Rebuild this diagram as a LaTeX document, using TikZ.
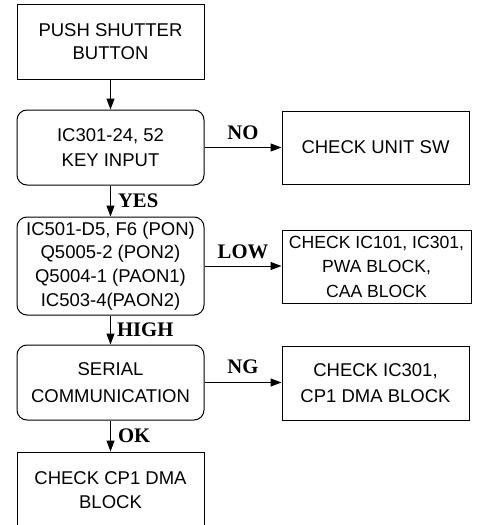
\documentclass[tikz,border=0pt]{standalone}
\usepackage{fontspec}
\setmainfont{Liberation Sans}
\newfontfamily\labelfont{Liberation Serif}
\usetikzlibrary{arrows.meta}

\tikzset{
  box/.style={draw, line width=1pt, minimum width=187pt, align=center,
    inner sep=0pt, font=\fontsize{18.5}{23.6}\selectfont},
  rbox/.style={box, rounded corners=10pt},
  flow/.style={line width=1pt, -{Triangle[length=11pt, width=8pt]}},
  tag/.style={font=\labelfont\bfseries\fontsize{20.7}{21}\selectfont, inner sep=0pt}
}

\begin{document}
\begin{tikzpicture}[x=1pt, y=-1pt]
  \useasboundingbox (0,0) rectangle (478,525);
  \clip (0,0) rectangle (478,525);

  % main column
  \node[box, minimum height=75pt] (push) at (110.5,41.5) {PUSH SHUTTER\\BUTTON};
  \node[rbox, minimum height=75pt, font=\fontsize{18.5}{25.7}\selectfont] (key) at (110.5,147.5) {IC301-24, 52\\KEY INPUT};
  \node[rbox, minimum height=98pt] (pon) at (110.5,266) {IC501-D5, F6 (PON)\\Q5005-2 (PON2)\\Q5004-1 (PAON1)\\IC503-4(PAON2)};
  \node[rbox, minimum height=75pt, font=\fontsize{18.5}{26.7}\selectfont] (serial) at (110.5,382.5) {SERIAL\\COMMUNICATION};
  \node[box, minimum height=76pt, text depth=0pt] (dma) at (110.5,490) {CHECK CP1 DMA\\BLOCK};

  % check boxes on the right
  \node[box, minimum height=73pt] (unitsw) at (375.5,147.5) {CHECK UNIT SW};
  \node[box, minimum width=189pt, minimum height=73pt, font=\fontsize{17.6}{24.5}\selectfont] (pwa) at (376.5,266.5) {CHECK IC101, IC301,\\PWA BLOCK,\\CAA BLOCK};
  \node[box, minimum height=74pt, font=\fontsize{18.5}{26}\selectfont] (ic301) at (375.5,383) {CHECK IC301,\\CP1 DMA BLOCK};

  % vertical flow
  \draw[flow] (push) -- (key);
  \draw[flow] (key) -- node[tag, anchor=west, xshift=7pt] {YES} (pon);
  \draw[flow] (pon) -- node[tag, anchor=west, xshift=6pt] {HIGH} (serial);
  \draw[flow] (serial) -- node[tag, anchor=west, xshift=7pt] {OK} (dma);

  % side branches
  \draw[flow] (key) -- node[tag, above=7pt] {NO} (unitsw);
  \draw[flow] (pon.east) -- node[tag, above=7pt] {LOW} (pon.east -| pwa.west);
  \draw[flow] (serial) -- node[tag, above=8pt] {NG} (serial -| ic301.west);
\end{tikzpicture}
\end{document}
